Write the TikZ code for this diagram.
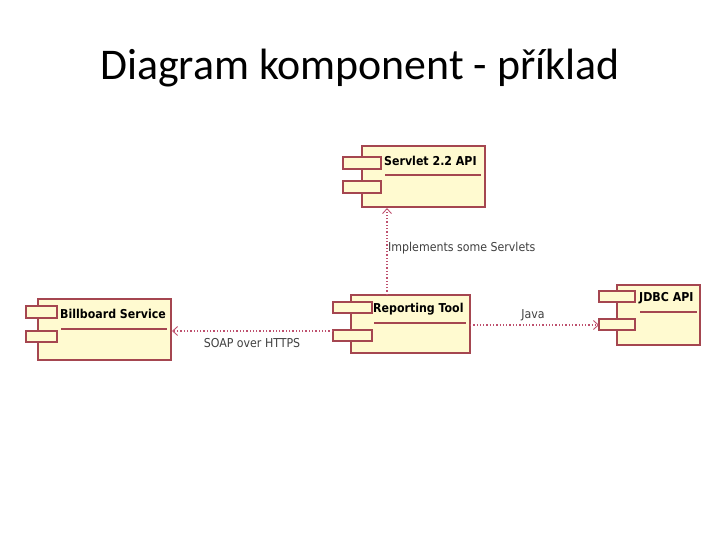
\documentclass[tikz,border=0pt]{standalone}
\usepackage{fontspec}
\setmainfont{Carlito}
\newfontfamily\tahoma{DejaVu Sans Condensed}
\usetikzlibrary{arrows.meta}
\definecolor{cfill}{RGB}{255,250,208}
\definecolor{cline}{RGB}{165,70,80}
\definecolor{cdep}{RGB}{190,80,110}
\tikzset{
  comp/.style={draw=cline,fill=cfill,line width=1.1pt},
  ttl/.style={font=\tahoma\bfseries\fontsize{12.3}{14}\selectfont,anchor=west,inner sep=0pt},
  lbl/.style={font=\tahoma\fontsize{12.3}{14}\selectfont,text=black!75,inner sep=0pt},
  dep/.style={draw=cdep,dotted,line width=1.3pt,-{Straight Barb[length=5pt,width=9pt,line width=0.9pt]}}
}
\begin{document}
\begin{tikzpicture}[x=1bp,y=-1bp]
\useasboundingbox (0,0) rectangle (720,540);
\node[font=\fontsize{44}{50}\selectfont] (title) at (360,68) {Diagram komponent - příklad};
% Servlet
\draw[comp] (362,146) rectangle (485,207);
\draw[comp] (343,157) rectangle (381,169);
\draw[comp] (343,181) rectangle (381,193);
\node[ttl] (servlet) at (384,161) {Servlet 2.2 API};
\draw[cline,line width=1.1pt] (385,175) -- (481,175);
\coordinate (sb) at (387,208);
% Reporting
\draw[comp] (351,295) rectangle (470,353);
\draw[comp] (333,302) rectangle (372,313);
\draw[comp] (333,330) rectangle (372,341);
\node[ttl] (rep) at (373,309) {Reporting Tool};
\draw[cline,line width=1.1pt] (374,323) -- (466,323);
\coordinate (rt) at (387,295);
\coordinate (rr) at (470,325);
\coordinate (rl) at (333,331);
% JDBC
\draw[comp] (617,285) rectangle (700,345);
\draw[comp] (599,291) rectangle (635,302);
\draw[comp] (599,319) rectangle (635,330);
\node[ttl] (jdbc) at (639,298) {JDBC API};
\draw[cline,line width=1.1pt] (640,312) -- (697,312);
\coordinate (jl) at (599,325);
% Billboard
\draw[comp] (38,299) rectangle (171,360);
\draw[comp] (26,306) rectangle (57,318);
\draw[comp] (26,331) rectangle (57,342);
\node[ttl] (bill) at (60,314) {Billboard Service};
\draw[cline,line width=1.1pt] (61,329) -- (167,329);
\coordinate (br) at (172,331);
% connectors
\draw[dep] (rt) -- (sb);
\draw[dep] (rr) -- (jl);
\draw[dep] (rl) -- (br);
\node[lbl,anchor=west] (l1) at (388,248) {Implements some Servlets};
\node[lbl] (l2) at (533,315) {Java};
\node[lbl] (l3) at (252,343) {SOAP over HTTPS};
\end{tikzpicture}
\end{document}
